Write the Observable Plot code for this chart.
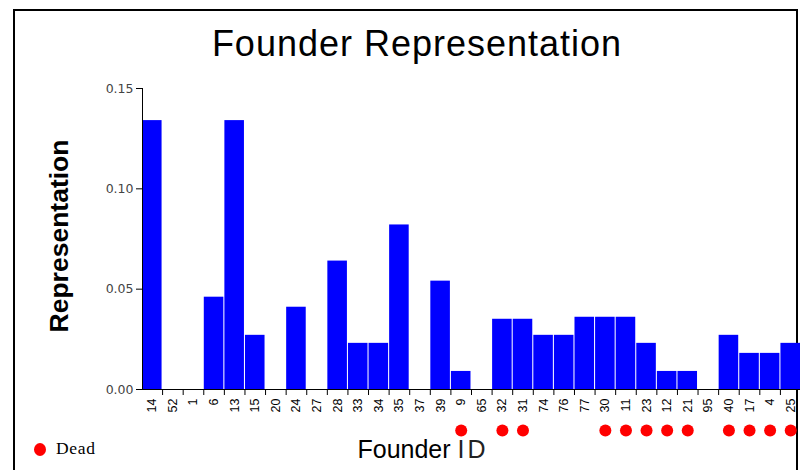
<!DOCTYPE html>
<html>
<head>
<meta charset="utf-8">
<script src="https://cdn.jsdelivr.net/npm/d3@7"></script>
<script src="https://cdn.jsdelivr.net/npm/@observablehq/plot@0.6"></script>
<style>
  html, body { margin: 0; padding: 0; background: #fff; }
  #wrap { position: relative; width: 800px; height: 470px; overflow: hidden; }
  #border { position: absolute; left: 13px; top: 9px; width: 785px; height: 480px;
            border: 2px solid #000; box-sizing: border-box; }
  .t { position: absolute; font-family: "Liberation Sans", Arial, sans-serif; color: #000; white-space: nowrap; }
  #title { left: 417px; top: 44px; font-size: 36px; letter-spacing: 1px; transform: translate(-50%, -50%); }
  #ylab { left: 59px; top: 236px; font-size: 26.5px; font-weight: bold; transform: translate(-50%, -50%) rotate(-90deg); }
  #xlab { left: 423px; top: 449px; font-size: 25px; transform: translate(-50%, -50%); }
  #xlab .id { letter-spacing: 3px; color: #222; }
  #legend { left: 34px; top: 438px; font-family: "Liberation Serif", "Times New Roman", serif; font-size: 17.5px; letter-spacing: 0.7px; }
  #legend span.dot { display: inline-block; width: 12px; height: 13px; border-radius: 50%; background: #ff0000; vertical-align: -2px; margin-right: 10px; }
  svg { position: absolute; left: 0; top: 0; }
</style>
</head>
<body>
<div id="wrap">
  <div id="border"></div>
  <div id="chart"></div>
  <div class="t" id="title">Founder Representation</div>
  <div class="t" id="ylab">Representation</div>
  <div class="t" id="xlab">Founder <span class="id">ID</span></div>
  <div class="t" id="legend"><span class="dot"></span>Dead</div>
</div>
<script>
const founderIds = ["14","52","1","6","13","15","20","24","27","28","33","34","35","37","39","9","65","32","31","74","76","77","30","11","23","12","21","95","40","17","4","25"];
const representation = [0.134,0,0,0.046,0.134,0.027,0,0.041,0,0.064,0.023,0.023,0.082,0,0.054,0.009,0,0.035,0.035,0.027,0.027,0.036,0.036,0.036,0.023,0.009,0.009,0,0.027,0.018,0.018,0.023];
const deadIds = ["9","32","31","30","11","23","12","21","40","17","4","25"];
const yTicks = [0, 0.05, 0.10, 0.15];

const data = founderIds.map((id, i) => ({id, value: representation[i]}));
const width = 800, mLeft = 142, mRight = 0;
const pInner = 0.05;
const step = (width - mLeft - mRight) / (founderIds.length - pInner);

const chart = Plot.plot({
  width: width,
  height: 470,
  marginTop: 88,
  marginBottom: 81,
  marginLeft: mLeft,
  marginRight: mRight,
  style: {background: "transparent", overflow: "visible"},
  x: {domain: founderIds, paddingInner: pInner, paddingOuter: 0, align: 0, round: false},
  y: {domain: [0, 0.15]},
  marks: [
    Plot.barY(data, {x: "id", y: "value", fill: "#0000ff"}),
    Plot.ruleY([0], {stroke: "#000", strokeWidth: 1}),
    Plot.frame({anchor: "left", stroke: "#000"}),
    Plot.axisY({ticks: yTicks, tickFormat: d3.format(".2f"), tickSize: 6, tickPadding: 3,
      fontSize: 12.5, fill: "#444", stroke: "#000", label: null,
      fontFamily: "'DejaVu Sans', sans-serif"}),
    Plot.axisX({tickSize: 6, text: null, dx: step / 2, stroke: "#000", label: null}),
    Plot.axisX({tickSize: 0, tickRotate: -90, tickPadding: 9, fontSize: 12.5, fill: "#000",
      fontFamily: "'Liberation Sans', Arial, sans-serif", label: null}),
    Plot.dot(deadIds, {x: d => d, y: () => 0, dy: 41, r: 6, fill: "#ff0000", stroke: null})
  ]
});
document.getElementById("chart").appendChild(chart);
</script>
</body>
</html>
